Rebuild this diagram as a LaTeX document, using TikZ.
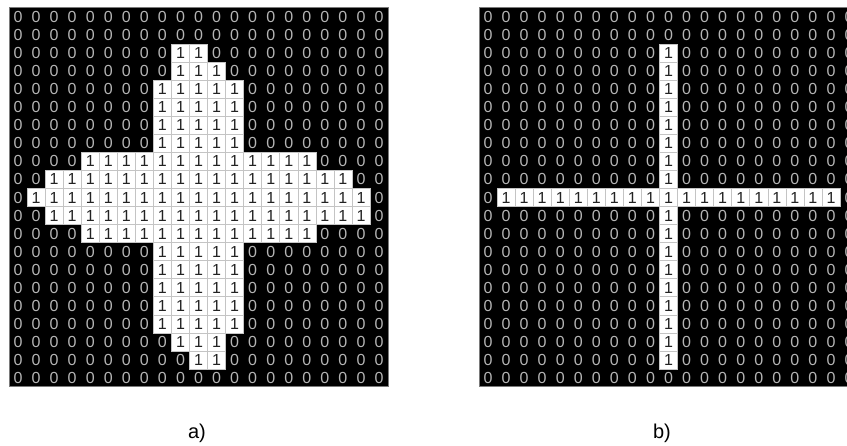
\documentclass[tikz,border=0pt]{standalone}
\usepackage{fontspec}
\setmainfont{Liberation Sans}
\definecolor{zerogray}{HTML}{B4B4B4}
\definecolor{onetext}{HTML}{222222}
\definecolor{linegray}{HTML}{C4C4C4}
\definecolor{framegray}{HTML}{7A7A7A}
\begin{document}
\begin{tikzpicture}[x=1pt,y=-1pt,
  zerocell/.style={inner sep=0pt, text=zerogray, font=\fontsize{16}{16}\selectfont},
  onecell/.style={draw=linegray, fill=white, line width=0.6pt, minimum size=18.05pt, inner sep=0pt, text=onetext, font=\fontsize{16}{16}\selectfont},
  gridframe/.style={fill=black, draw=framegray, line width=1pt},
  caption/.style={inner sep=0pt, font=\fontsize{20}{20}\selectfont}]
\useasboundingbox (0,0) rectangle (847,446);
\clip (0,0) rectangle (847,446);
\def\cs{18.05}
% grid a
\path[gridframe] (9,8) rectangle (388,387);
\foreach \r/\a/\b in {0/99/-1,1/99/-1,2/9/10,3/9/11,4/8/12,5/8/12,6/8/12,7/8/12,8/4/16,9/2/18,10/1/19,11/2/19,12/4/16,13/8/12,14/8/12,15/8/12,16/8/12,17/8/12,18/9/11,19/10/11,20/99/-1}{
  \foreach \c in {0,...,20}{
    \pgfmathsetmacro\px{9+(\c+0.5)*\cs}
    \pgfmathsetmacro\py{8+(\r+0.5)*\cs}
    \pgfmathtruncatemacro\inside{(\c>=\a)&&(\c<=\b)}
    \ifnum\inside=1
      \node[onecell] (a-\r-\c) at (\px,\py) {1};
    \else
      \node[zerocell] (a-\r-\c) at (\px,\py) {0};
    \fi
  }
}
% grid b
\path[gridframe] (479,8) rectangle (858,387);
\foreach \r/\a/\b in {0/99/-1,1/99/-1,2/10/10,3/10/10,4/10/10,5/10/10,6/10/10,7/10/10,8/10/10,9/10/10,10/1/19,11/10/10,12/10/10,13/10/10,14/10/10,15/10/10,16/10/10,17/10/10,18/10/10,19/10/10,20/99/-1}{
  \foreach \c in {0,...,20}{
    \pgfmathsetmacro\px{479+(\c+0.5)*\cs}
    \pgfmathsetmacro\py{8+(\r+0.5)*\cs}
    \pgfmathtruncatemacro\inside{(\c>=\a)&&(\c<=\b)}
    \ifnum\inside=1
      \node[onecell] (b-\r-\c) at (\px,\py) {1};
    \else
      \node[zerocell] (b-\r-\c) at (\px,\py) {0};
    \fi
  }
}
\node[caption] (capa) at (197,433) {a)};
\node[caption] (capb) at (662,433) {b)};
\end{tikzpicture}
\end{document}
